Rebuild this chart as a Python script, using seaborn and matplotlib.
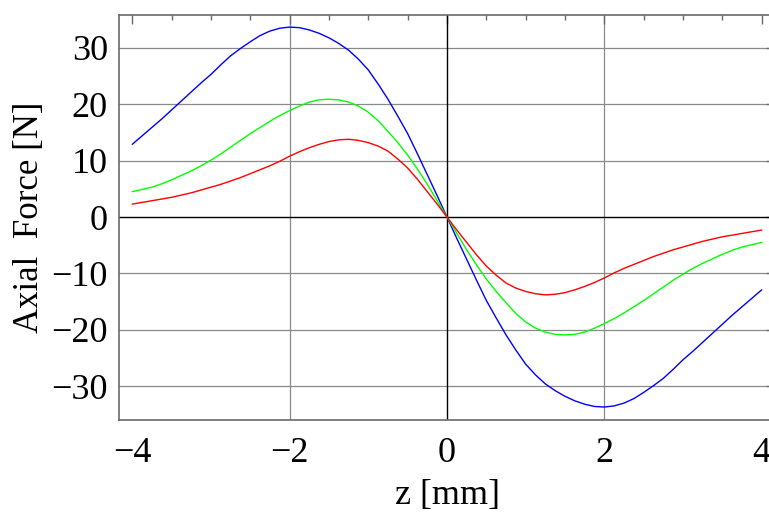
import matplotlib
matplotlib.use("Agg")
import matplotlib.pyplot as plt
import numpy as np
import pandas as pd
import seaborn as sns
from matplotlib.ticker import MultipleLocator, FixedLocator

# ---- data ----
z_mm = [-4.0, -3.875, -3.75, -3.625, -3.5, -3.375, -3.25, -3.125, -3.0, -2.875,
        -2.75, -2.625, -2.5, -2.375, -2.25, -2.125, -2.0, -1.875, -1.75, -1.625,
        -1.5, -1.375, -1.25, -1.125, -1.0, -0.875, -0.75, -0.625, -0.5, -0.375,
        -0.25, -0.125, 0.0, 0.125, 0.25, 0.375, 0.5, 0.625, 0.75, 0.875, 1.0,
        1.125, 1.25, 1.375, 1.5, 1.625, 1.75, 1.875, 2.0, 2.125, 2.25, 2.375,
        2.5, 2.625, 2.75, 2.875, 3.0, 3.125, 3.25, 3.375, 3.5, 3.625, 3.75,
        3.875, 4.0]
force_blue = [12.9, 14.4, 15.9, 17.4, 19.0, 20.6, 22.2, 23.8, 25.3, 27.0,
              28.6, 29.9, 31.1, 32.2, 33.0, 33.5, 33.7, 33.6, 33.2, 32.6,
              31.8, 30.8, 29.6, 28.0, 26.1, 23.6, 20.9, 17.9, 14.8, 11.2,
              7.5, 3.8, 0.0, -3.8, -7.5, -11.2, -14.8, -17.9, -20.9, -23.6, -26.1,
              -28.0, -29.6, -30.8, -31.8, -32.6, -33.2, -33.6, -33.7, -33.5, -33.0,
              -32.2, -31.1, -29.9, -28.6, -27.0, -25.3, -23.8, -22.2, -20.6, -19.0,
              -17.4, -15.9, -14.4, -12.9]
force_green = [4.5, 4.9, 5.3, 5.9, 6.6, 7.4, 8.2, 9.1, 10.1, 11.2,
               12.4, 13.6, 14.8, 15.9, 17.0, 18.0, 18.9, 19.7, 20.4, 20.8,
               20.9, 20.8, 20.4, 19.7, 18.6, 17.1, 15.2, 13.2, 11.0, 8.5,
               5.8, 2.9, 0.0, -2.9, -5.8, -8.5, -11.0, -13.2, -15.2, -17.1, -18.6,
               -19.7, -20.4, -20.8, -20.9, -20.8, -20.4, -19.7, -18.9, -18.0, -17.0,
               -15.9, -14.8, -13.6, -12.4, -11.2, -10.1, -9.1, -8.2, -7.4, -6.6,
               -5.9, -5.3, -4.9, -4.5]
force_red = [2.3, 2.6, 2.9, 3.2, 3.5, 3.9, 4.3, 4.8, 5.3, 5.8,
             6.4, 7.0, 7.7, 8.4, 9.1, 9.9, 10.8, 11.6, 12.3, 12.9,
             13.4, 13.7, 13.8, 13.6, 13.2, 12.6, 11.7, 10.3, 8.7, 6.7,
             4.5, 2.3, 0.0, -2.3, -4.5, -6.7, -8.7, -10.3, -11.7, -12.6, -13.2,
             -13.6, -13.8, -13.7, -13.4, -12.9, -12.3, -11.6, -10.8, -9.9, -9.1,
             -8.4, -7.7, -7.0, -6.4, -5.8, -5.3, -4.8, -4.3, -3.9, -3.5,
             -3.2, -2.9, -2.6, -2.3]
series_names = ["blue", "green", "red"]
series_colors = ["#0000ff", "#00ff00", "#ff0000"]
x_ticks = [-4, -2, 0, 2, 4]
y_ticks = [-30, -20, -10, 0, 10, 20, 30]
x_grid = [-2, 2]
y_grid = [-30, -20, -10, 10, 20, 30]
x_label = "z [mm]"
y_label = "Axial  Force [N]"

# ---- build table ----
df = pd.concat([
    pd.DataFrame({"z": z_mm, "F": vals, "series": name})
    for name, vals in zip(series_names, [force_blue, force_green, force_red])
], ignore_index=True)

sns.set_style("white")
plt.rcParams["font.family"] = ["Liberation Serif", "DejaVu Serif"]
plt.rcParams["axes.unicode_minus"] = True
plt.rcParams["axes.labelcolor"] = "black"
plt.rcParams["text.color"] = "black"

W, H = 769, 513
fig = plt.figure(figsize=(W / 100, H / 100), dpi=100)
left_px, right_px, top_px, bottom_px = 119, 775, 14.7, 420
ax = fig.add_axes([left_px / W, 1 - bottom_px / H,
                   (right_px - left_px) / W, (bottom_px - top_px) / H])

grid_col = "#8a8a8a"
for gy in y_grid:
    ax.axhline(gy, color=grid_col, lw=0.9, zorder=0)
for gx in x_grid:
    ax.axvline(gx, color=grid_col, lw=0.9, zorder=0)
ax.axhline(0, color="black", lw=1.0, zorder=1)
ax.axvline(0, color="black", lw=1.0, zorder=1)

sns.lineplot(data=df, x="z", y="F", hue="series",
             palette=dict(zip(series_names, series_colors)),
             estimator=None, errorbar=None, legend=False, lw=1.0, ax=ax,
             zorder=3)

ax.set_xlim(-4.168, 4.168)
ax.set_ylim(-36.0, 35.9)
ax.xaxis.set_major_locator(FixedLocator(x_ticks))
ax.yaxis.set_major_locator(FixedLocator(y_ticks))
ax.xaxis.set_minor_locator(MultipleLocator(0.5))
ax.yaxis.set_minor_locator(MultipleLocator(2))

frame_col = "#6a6a6a"
for sp in ax.spines.values():
    sp.set_color(frame_col)
    sp.set_linewidth(1.2)
ax.tick_params(which="both", direction="in", top=True, right=True,
               color=frame_col, width=1.0)
ax.tick_params(which="major", length=6.5, labelsize=26, labelcolor="black")
ax.tick_params(which="minor", length=3.5)
ax.tick_params(axis="y", which="major", pad=8)
ax.tick_params(axis="x", which="major", pad=12)

ax.set_xlabel(x_label, fontsize=26, labelpad=7, color="black")
ax.set_ylabel(y_label, fontsize=25, labelpad=4, color="black")

fig.savefig("out.png", dpi=100)
